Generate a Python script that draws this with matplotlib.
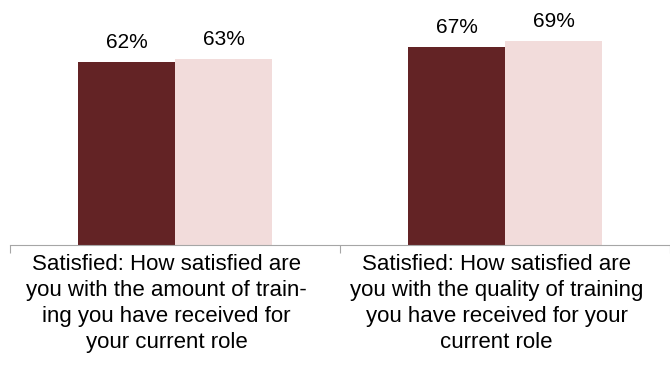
import matplotlib

matplotlib.use("Agg")
import matplotlib.pyplot as plt
import numpy as np

categories = [
    "Satisfied: How satisfied are\nyou with the amount of train-\ning you have received for\nyour current role",
    "Satisfied: How satisfied are\nyou with the quality of training\nyou have received for your\ncurrent role",
]
series_a = [62, 67]
series_b = [63, 69]
colors = ["#632325", "#f2dcdb"]

plt.rcParams["font.family"] = ["Liberation Sans", "DejaVu Sans"]

fig = plt.figure(figsize=(6.7, 3.69), dpi=100)
ax = fig.add_axes([10 / 670, 124 / 369, 660 / 670, 245 / 369])

x = np.arange(len(categories))
width = 0.294
bars_a = ax.bar(x - width / 2, series_a, width, color=colors[0])
bars_b = ax.bar(x + width / 2, series_b, width, color=colors[1])

for bars, values in ((bars_a, series_a), (bars_b, series_b)):
    for bar, value in zip(bars, values):
        ax.annotate(
            f"{value}%",
            xy=(bar.get_x() + bar.get_width() / 2, value),
            xytext=(0, 10),
            textcoords="offset pixels",
            ha="center",
            va="bottom",
            fontsize=15,
        )

for pos, label in zip(x, categories):
    ax.annotate(
        label,
        xy=(pos - 0.025, 0),
        xycoords=("data", "axes fraction"),
        xytext=(0, -9),
        textcoords="offset pixels",
        ha="center",
        va="top",
        fontsize=16,
        linespacing=1.32,
    )

ax.set_xlim(-0.5, 1.5)
ax.set_ylim(0, 83)
for side in ("top", "right", "left"):
    ax.spines[side].set_visible(False)
ax.spines["bottom"].set_color("#a6a6a6")
ax.set_yticks([])
ax.set_xticks([-0.5, 0.5, 1.5])
ax.set_xticklabels([])
ax.tick_params(axis="x", length=6, color="#a6a6a6", direction="out")

fig.savefig("out.png", dpi=100)
